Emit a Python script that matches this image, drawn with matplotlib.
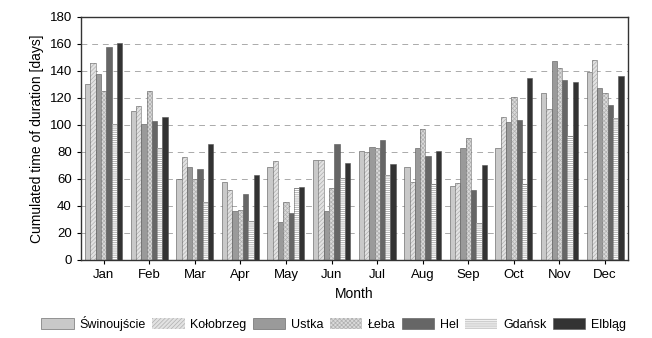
import numpy as np
import matplotlib.pyplot as plt

plt.rcParams['font.family'] = ['Liberation Sans', 'DejaVu Sans']
plt.rcParams['hatch.linewidth'] = 0.5

months = ['Jan', 'Feb', 'Mar', 'Apr', 'May', 'Jun', 'Jul', 'Aug', 'Sep', 'Oct', 'Nov', 'Dec']
stations = ['Świnoujście', 'Kołobrzeg', 'Ustka', 'Łeba', 'Hel', 'Gdańsk', 'Elbląg']

swinoujscie = [130, 110, 60, 58, 69, 74, 81, 69, 55, 83, 124, 139]
kolobrzeg = [146, 114, 76, 52, 73, 74, 80, 58, 57, 106, 112, 148]
ustka = [138, 101, 69, 36, 28, 36, 84, 83, 83, 102, 147, 127]
leba = [125, 125, 60, 37, 43, 53, 83, 97, 90, 121, 142, 124]
hel = [158, 103, 67, 49, 35, 86, 89, 77, 52, 104, 133, 115]
gdansk = [101, 83, 43, 29, 53, 61, 63, 56, 27, 56, 92, 105]
elblag = [161, 106, 86, 63, 54, 72, 71, 81, 70, 135, 132, 136]

series = [swinoujscie, kolobrzeg, ustka, leba, hel, gdansk, elblag]
colors = ['#c9c9c9', '#e2e2e2', '#9a9a9a', '#dadada', '#666666', '#ffffff', '#333333']
hatches = [None, '////////', None, 'xxxxxxxx', None, '--------', None]
hatch_colors = [None, '#b0b0b0', None, '#b0b0b0', None, '#999999', None]

fig = plt.figure(figsize=(6.52, 3.38), dpi=100)
ax = fig.add_axes([0.124, 0.231, 0.839, 0.719])

x = np.arange(1, len(months) + 1)
w = 0.116
for i, vals in enumerate(series):
    pos = x + (i - 3) * w
    if hatches[i]:
        ax.bar(pos, vals, width=w, color=colors[i], hatch=hatches[i],
               edgecolor=hatch_colors[i], linewidth=0, label=stations[i], zorder=2)
        ax.bar(pos, vals, width=w, fill=False, edgecolor='#666666', linewidth=0.4, zorder=3)
    else:
        ax.bar(pos, vals, width=w, color=colors[i], edgecolor='#555555',
               linewidth=0.4, label=stations[i], zorder=2)

ax.set_xlim(0.5, 12.5)
ax.set_ylim(0, 180)
ax.set_yticks(range(0, 181, 20))
ax.set_xticks(x)
ax.set_xticklabels(months)
ax.yaxis.grid(True, linestyle=(0, (6, 5)), color='#aaaaaa', linewidth=0.7, zorder=0)
ax.tick_params(labelsize=9.5, direction='out', length=3)
for s in ax.spines.values():
    s.set_linewidth(1.0)
    s.set_color('#333333')

ax.set_xlabel('Month', fontsize=10)
ax.set_ylabel('Cumulated time of duration [days]', fontsize=10)

ax.legend(loc='center', bbox_to_anchor=(0.462, -0.26), ncol=7, frameon=False,
          fontsize=9.0, handlelength=2.6, handleheight=1.0, columnspacing=0.5,
          handletextpad=0.45, borderpad=0, borderaxespad=0)

fig.savefig('out.png', dpi=100)
